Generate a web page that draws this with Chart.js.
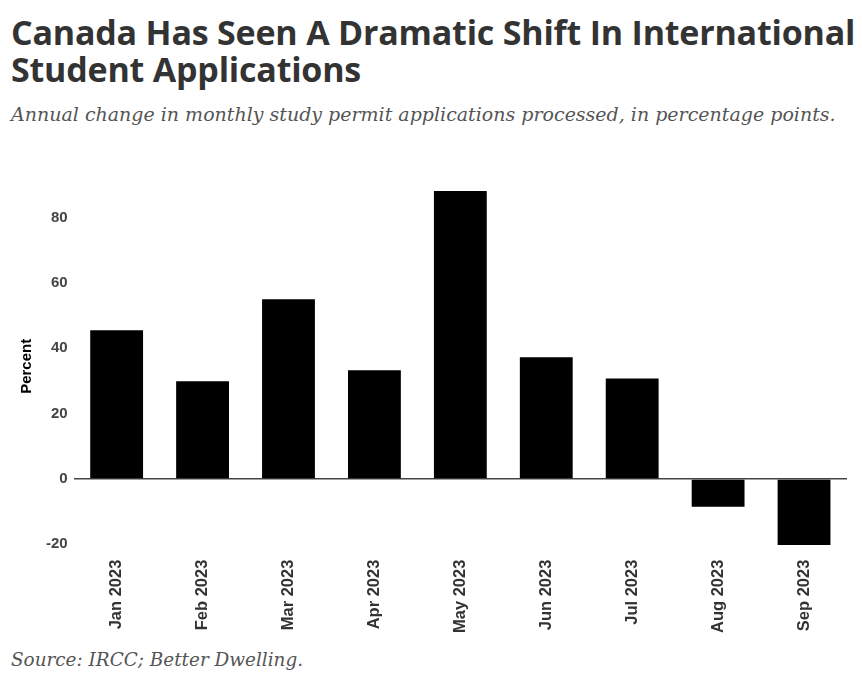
<!DOCTYPE html>
<html>
<head>
<meta charset="utf-8">
<script src="https://cdn.jsdelivr.net/npm/chart.js@4.4.0/dist/chart.umd.min.js"></script>
<style>
    body { margin: 0; background: #fff; width: 862px; height: 682px; position: relative; overflow: hidden; }
    #title { position: absolute; left: 11px; top: 14px; font-family: "Open Sans", sans-serif; font-weight: 700; font-size: 34px; line-height: 37px; color: #333; letter-spacing: -0.2px; }
    #subtitle { position: absolute; left: 11px; top: 103px; font-family: "DejaVu Serif", serif; font-style: italic; font-size: 19px; color: #555; }
    #source { position: absolute; left: 11px; top: 649px; font-family: "DejaVu Serif", serif; font-style: italic; font-size: 18.4px; color: #555; }
    #wrap { position: absolute; left: 0; top: 140px; width: 862px; height: 505px; }
</style>
</head>
<body>
<div id="title">Canada Has Seen A Dramatic Shift In International<br>Student Applications</div>
<div id="subtitle">Annual change in monthly study permit applications processed, in percentage points.</div>
<div id="wrap"><canvas id="chart"></canvas></div>
<div id="source">Source: IRCC; Better Dwelling.</div>
<script>
const months = ["Jan 2023", "Feb 2023", "Mar 2023", "Apr 2023", "May 2023", "Jun 2023", "Jul 2023", "Aug 2023", "Sep 2023"];
const changes = [45.5, 29.9, 55.0, 33.3, 88.2, 37.3, 30.8, -8.5, -20.2];
const yTicks = [-20, 0, 20, 40, 60, 80];

const ctx = document.getElementById("chart").getContext("2d");
const tickFont = { family: "Liberation Sans, Arial", size: 15, weight: "bold" };

// Gráfico de barras
new Chart(ctx, {
    type: "bar",
    data: {
        labels: months,
        datasets: [{
            data: changes,
            backgroundColor: "#000",
            categoryPercentage: 0.615,
            barPercentage: 1
        }]
    },
    options: {
        responsive: true,
        maintainAspectRatio: false,
        animation: false,
        layout: { padding: { left: 18, right: 15, top: 45, bottom: 0 } },
        plugins: { legend: { display: false }, tooltip: { enabled: false } },
        scales: {
            x: {
                grid: { display: false, drawTicks: false },
                border: { display: false },
                ticks: {
                    maxRotation: 90, minRotation: 90, padding: 12,
                    color: "#333",
                    font: { family: "Liberation Sans, Arial", size: 16.5, weight: "bold" }
                }
            },
            y: {
                min: -21,
                max: 90,
                afterBuildTicks: axis => { axis.ticks = yTicks.map(v => ({ value: v })); },
                grid: {
                    drawTicks: false,
                    lineWidth: 1.5,
                    color: c => c.tick && c.tick.value === 0 ? "#444" : "rgba(0,0,0,0)"
                },
                border: { display: false },
                ticks: {
                    padding: 6,
                    color: "#444",
                    font: tickFont
                },
                title: {
                    display: true, text: "Percent", color: "#000",
                    font: tickFont,
                    padding: { top: 0, bottom: 4 }
                }
            }
        }
    }
});
</script>
</body>
</html>
